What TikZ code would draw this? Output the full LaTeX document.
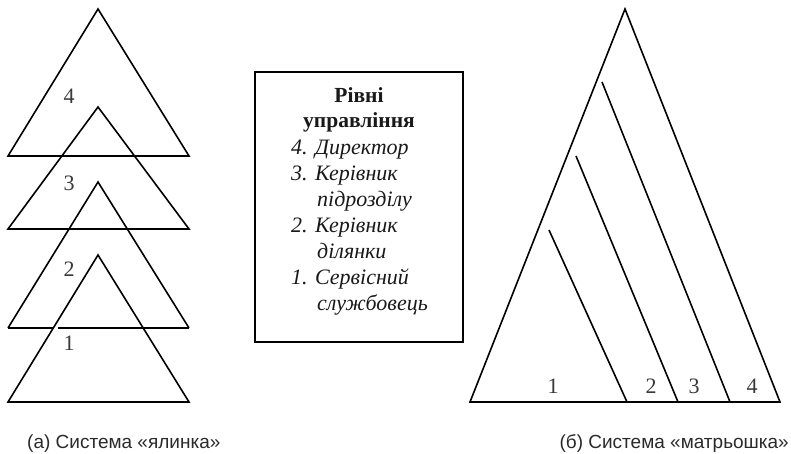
\documentclass[tikz,border=0pt]{standalone}
\usepackage{fontspec}
\setmainfont{Liberation Serif}
\setsansfont{Liberation Sans}
\definecolor{labgray}{HTML}{3A3A3A}
\definecolor{capgray}{HTML}{2A2A2A}
\tikzset{
  edge/.style={line width=1.6pt, line join=miter},
  boxframe/.style={line width=2pt},
  num/.style={font=\fontsize{22}{26}\selectfont, text=labgray, inner sep=0pt, anchor=base},
  title/.style={font=\fontsize{21.5}{25}\selectfont\bfseries, text=black!90, inner sep=0pt, anchor=base},
  item/.style={font=\fontsize{22}{26}\selectfont\itshape, text=black!90, inner sep=0pt, anchor=base west},
  caption/.style={font=\sffamily\fontsize{19}{23}\selectfont, text=capgray, inner sep=0pt}
}
\begin{document}
\begin{tikzpicture}[x=1pt,y=-1pt]
\useasboundingbox[fill=white] (0,0) rectangle (791,454);

% ---- left: "ялинка" ----
\coordinate (t4a) at (98,9);   \coordinate (t4l) at (8,156);  \coordinate (t4r) at (189,156);
\coordinate (t3a) at (98,107); \coordinate (t3l) at (8,229);  \coordinate (t3r) at (189,229);
\coordinate (t2a) at (98,182); \coordinate (t2l) at (8,328);  \coordinate (t2r) at (189,328);
\coordinate (t1a) at (98,255); \coordinate (t1l) at (8,402);  \coordinate (t1r) at (189,402);

\draw[edge] (t4l) -- (t4a) -- (t4r) -- cycle;
\draw[edge] (t3l) -- (t3a) -- (t3r) -- cycle;
\draw[edge] (t2l) -- (t2a) -- (t2r);
\draw[edge] (t2l) -- (53,328);
\draw[edge] (58,328) -- (t2r);
\draw[edge] (t1l) -- (t1a) -- (t1r) -- cycle;

\node[num] (l4) at (69,104) {4};
\node[num] (l3) at (69,191) {3};
\node[num] (l2) at (69,276) {2};
\node[num] (l1) at (69,350) {1};

% ---- middle box ----
\draw[boxframe] (255,72) rectangle (463,342);
\node[title] (h1) at (359,103) {Рівні};
\node[title] (h2) at (359,128) {управління};
\node[item] (i4)  at (291,155) {4. Директор};
\node[item] (i3)  at (291,181) {3. Керівник};
\node[item] (i3b) at (317,207) {підрозділу};
\node[item] (i2)  at (291,233) {2. Керівник};
\node[item] (i2b) at (317,258) {ділянки};
\node[item] (i1)  at (291,284) {1. Сервісний};
\node[item] (i1b) at (317,310) {службовець};

% ---- right: "матрьошка" ----
\coordinate (ma) at (625,9); \coordinate (ml) at (470,402); \coordinate (mr) at (780,402);
\draw[edge] (ml) -- (ma) -- (mr) -- cycle;
\draw[edge] (602,82) -- (730,402);
\draw[edge] (576,156) -- (678,402);
\draw[edge] (549,230) -- (627,402);

\node[num] (r1) at (553,393) {1};
\node[num] (r2) at (651,393) {2};
\node[num] (r3) at (694,393) {3};
\node[num] (r4) at (752,393) {4};

% ---- captions ----
\node[caption, anchor=base west] (capa) at (27,448) {(а) Система «ялинка»};
\node[caption, anchor=base east] (capb) at (789,448) {(б) Система «матрьошка»};
\end{tikzpicture}
\end{document}
